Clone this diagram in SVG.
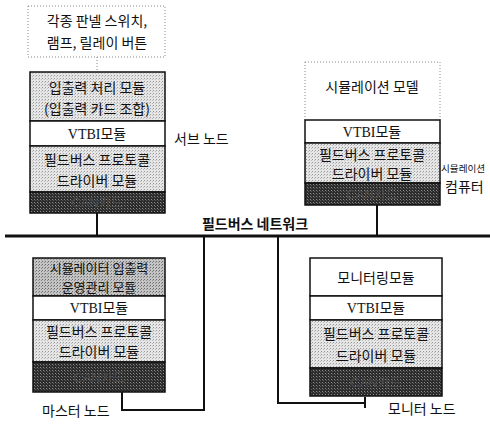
<svg xmlns="http://www.w3.org/2000/svg" width="490" height="426" viewBox="0 0 490 426">
<defs>
<pattern id="stip" width="3" height="3" patternUnits="userSpaceOnUse">
<rect width="3" height="3" fill="#e6e6e6"/><rect x="0" y="0" width="1" height="1" fill="#9a9a9a"/><rect x="2" y="1" width="1" height="1" fill="#bdbdbd"/>
</pattern>
<pattern id="stipmid" width="3" height="3" patternUnits="userSpaceOnUse">
<rect width="3" height="3" fill="#c4c4c4"/><rect x="0" y="0" width="1" height="1" fill="#6a6a6a"/><rect x="2" y="1" width="1" height="1" fill="#8a8a8a"/>
</pattern>
<pattern id="stipdark" width="3" height="3" patternUnits="userSpaceOnUse">
<rect width="3" height="3" fill="#2c2c2c"/><rect x="1" y="1" width="1" height="1" fill="#8a8a8a"/><rect x="2" y="2" width="1" height="1" fill="#5a5a5a"/>
</pattern>
</defs>
<style>
.k{font-family:"Noto Sans CJK KR","Liberation Sans",sans-serif;font-size:14px;fill:#111;text-anchor:middle}
.k13{font-size:13px}
.v{font-family:"Liberation Serif","Noto Sans CJK KR",serif;font-size:14px;fill:#111;text-anchor:middle}
.d{font-family:"Liberation Sans","Noto Sans CJK KR",sans-serif;font-size:13px;fill:#4a4a4a;text-anchor:middle}
.lbl{font-family:"Noto Sans CJK KR","Liberation Sans",sans-serif;font-size:14px;fill:#111}
.sm{font-size:9.6px}
.box{stroke:#111;stroke-width:1.5}
.dot{fill:none;stroke:#888;stroke-width:1;stroke-dasharray:1 2}
.wire{fill:none;stroke:#111;stroke-width:2}
</style>
<g id="panel">
<rect class="dot" x="28" y="6" width="137" height="51"/>
<text class="k" x="97" y="26">각종 판넬 스위치,</text>
<text class="k" x="97" y="48">램프, 릴레이 버튼</text>
</g>
<g id="sub-node">
<rect class="box" x="30" y="72" width="135" height="49" fill="url(#stip)"/>
<rect class="box" x="30" y="121" width="135" height="25" fill="#fff"/>
<rect class="box" x="30" y="146" width="135" height="46" fill="url(#stip)"/>
<rect class="box" x="30" y="192" width="135" height="21" fill="url(#stipdark)"/>
<text class="k" x="97" y="93">입출력 처리 모듈</text>
<text class="k" x="97" y="114">(입출력 카드 조합)</text>
<text class="v" x="97" y="139">VTBI모듈</text>
<text class="k" x="97" y="165">필드버스 프로토콜</text>
<text class="k" x="97" y="186">드라이버 모듈</text>
<text class="d" x="97" y="207">CAN카드</text>
<text class="lbl" x="174" y="144">서브 노드</text>
</g>
<g id="sim-node">
<path class="dot" d="M305 62 H440 M305 62 V120 M440 62 V120"/>
<text class="k" x="372" y="92">시뮬레이션 모델</text>
<rect class="box" x="305" y="120" width="135" height="23" fill="#fff"/>
<rect class="box" x="305" y="143" width="135" height="40" fill="url(#stip)"/>
<rect class="box" x="305" y="183" width="135" height="22" fill="url(#stipdark)"/>
<text class="v" x="372" y="137">VTBI모듈</text>
<text class="k" x="372" y="160">필드버스 프로토콜</text>
<text class="k" x="372" y="179">드라이버 모듈</text>
<text class="d" x="372" y="199">CAN카드</text>
<text class="lbl sm" x="441" y="172">시뮬레이션</text>
<text class="lbl" x="445" y="192">컴퓨터</text>
</g>
<g id="master-node">
<rect class="box" x="33" y="258" width="132" height="38" fill="url(#stipmid)"/>
<rect class="box" x="33" y="296" width="132" height="24" fill="#fff"/>
<rect class="box" x="33" y="320" width="132" height="42" fill="url(#stip)"/>
<rect class="box" x="33" y="362" width="132" height="30" fill="url(#stipdark)"/>
<text class="k k13" x="99" y="273">시뮬레이터 입출력</text>
<text class="k k13" x="99" y="292">운영관리 모듈</text>
<text class="v" x="99" y="313">VTBI모듈</text>
<text class="k" x="99" y="337">필드버스 프로토콜</text>
<text class="k" x="99" y="357">드라이버 모듈</text>
<text class="d" x="99" y="382">CAN카드</text>
<text class="lbl" x="42" y="416">마스터 노드</text>
</g>
<g id="monitor-node">
<rect class="box" x="310" y="258" width="132" height="38" fill="#fff"/>
<rect class="box" x="310" y="296" width="132" height="24" fill="#fff"/>
<rect class="box" x="310" y="320" width="132" height="48" fill="url(#stip)"/>
<rect class="box" x="310" y="368" width="132" height="28" fill="url(#stipdark)"/>
<text class="k" x="376" y="283">모니터링모듈</text>
<text class="v" x="376" y="313">VTBI모듈</text>
<text class="k" x="376" y="339">필드버스 프로토콜</text>
<text class="k" x="376" y="361">드라이버 모듈</text>
<text class="d" x="376" y="387">CAN카드</text>
<text class="lbl" x="388" y="414">모니터 노드</text>
</g>
<g id="connectors">
<line class="dot" x1="97" y1="57" x2="97" y2="72"/>
<line x1="5" y1="236" x2="490" y2="236" stroke="#111" stroke-width="3"/>
<text class="lbl" x="255" y="229" text-anchor="middle" font-weight="bold">필드버스 네트워크</text>
<path class="wire" d="M97 213 V236"/>
<path class="wire" d="M377 205 V236"/>
<path class="wire" d="M122 392 V410 H204 V236"/>
<path class="wire" d="M278 236 V403 H365"/>
<path class="wire" d="M365 397 V408"/>
</g>
</svg>
